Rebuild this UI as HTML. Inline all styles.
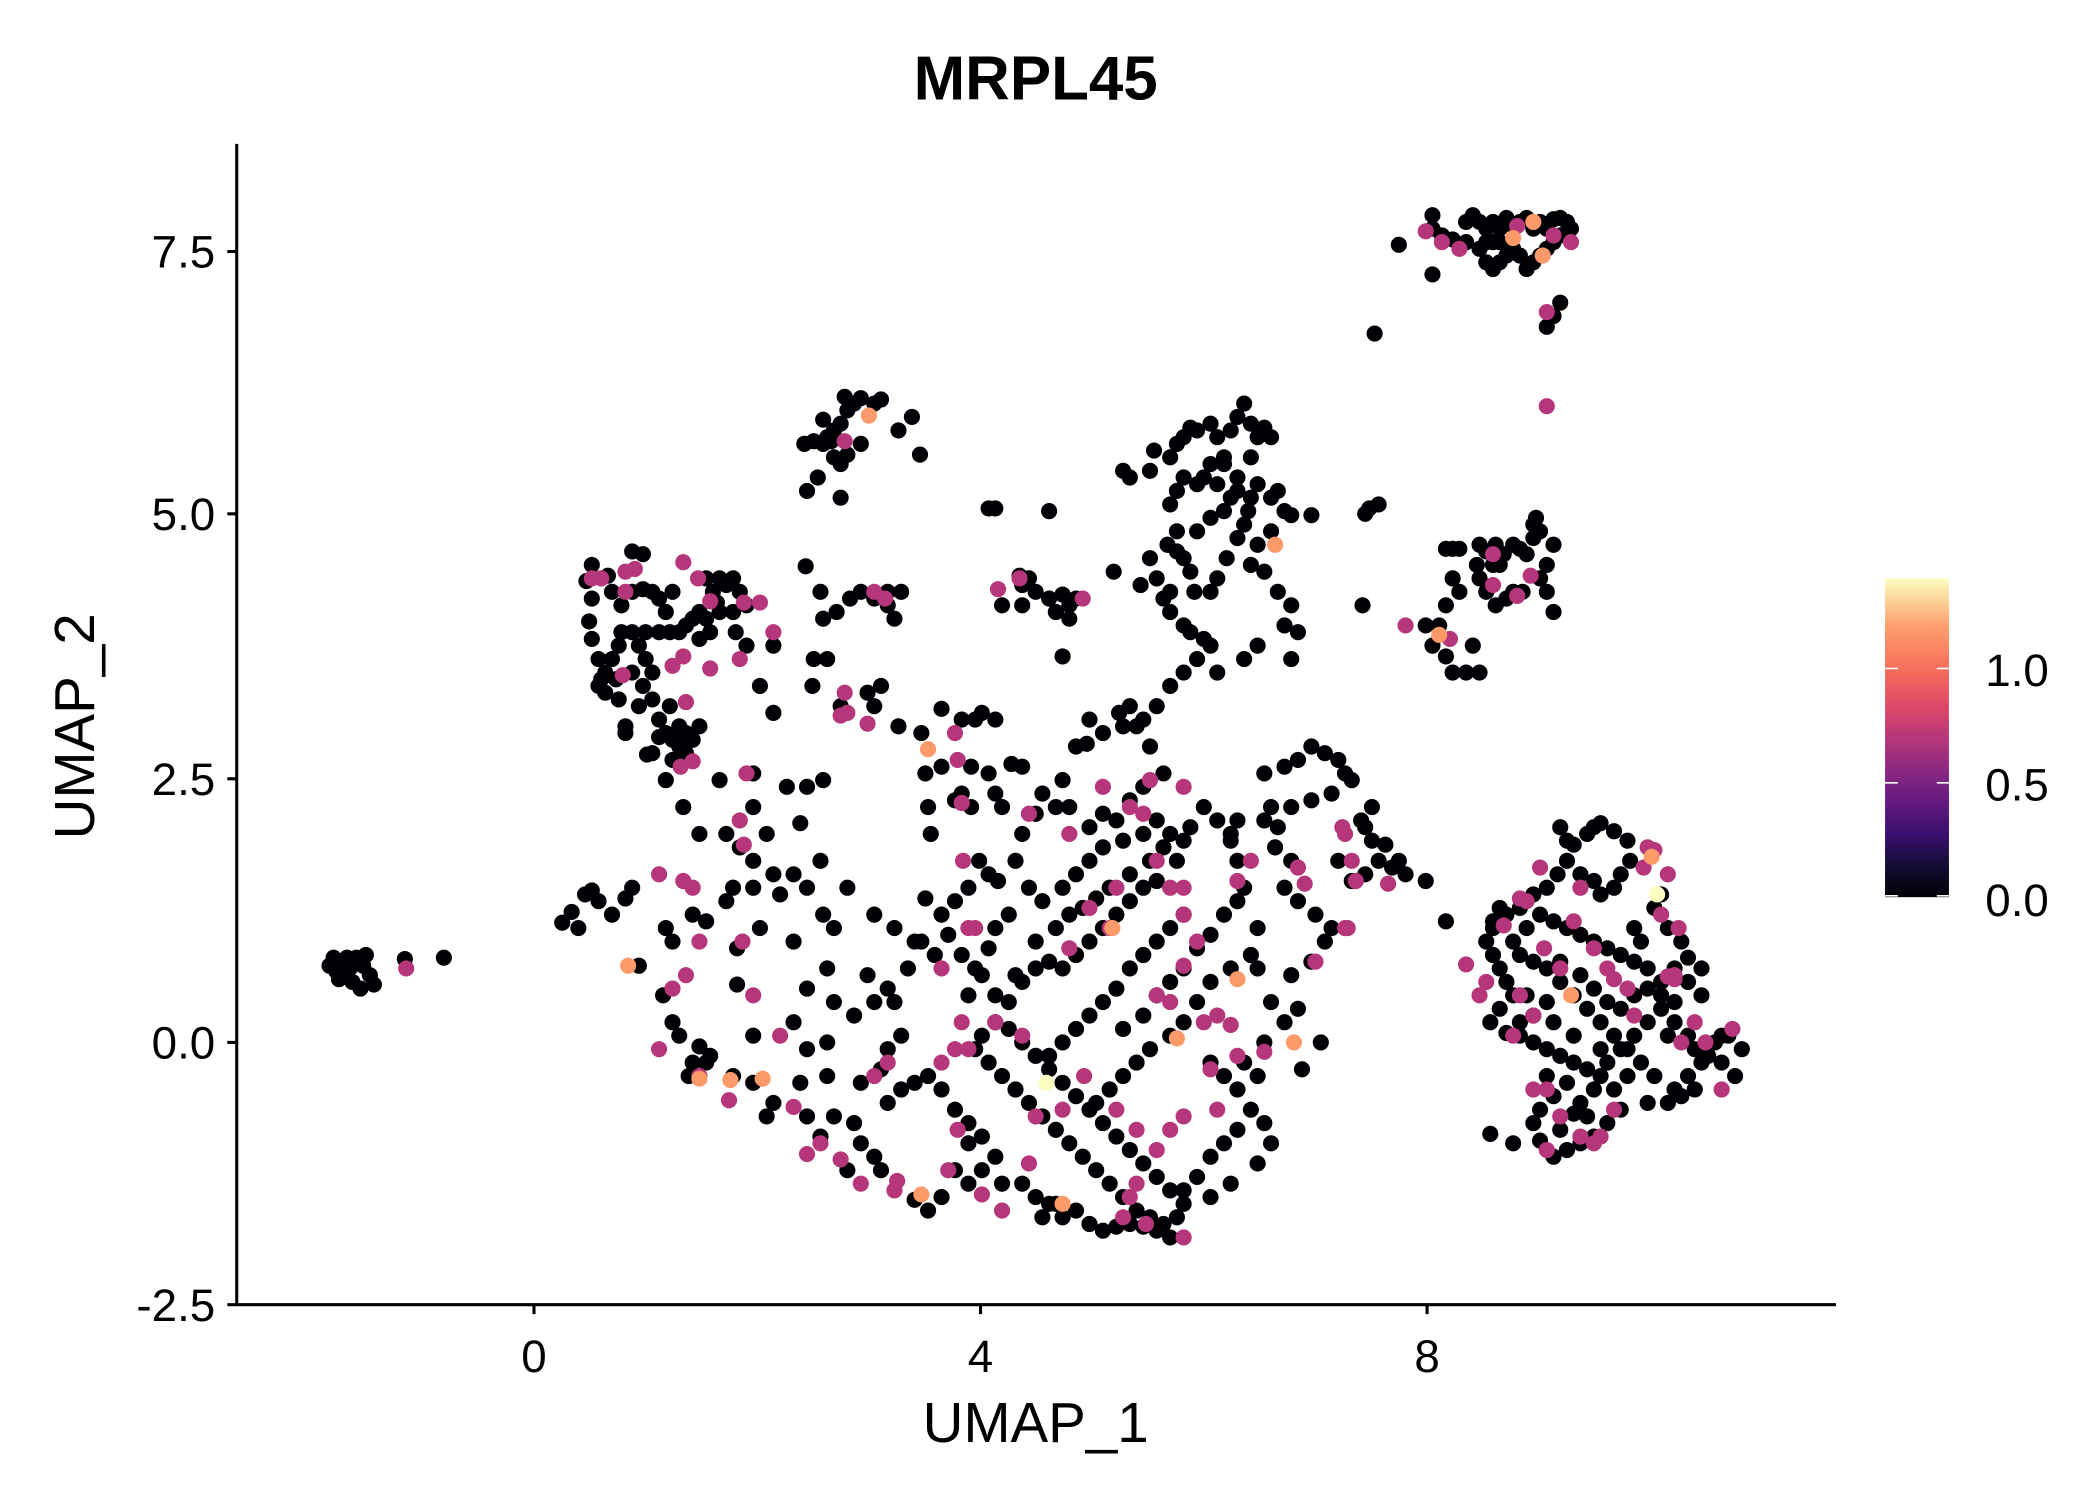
<!DOCTYPE html>
<html><head><meta charset="utf-8"><style>html,body{margin:0;padding:0;background:#fff}svg{display:block}</style></head>
<body>
<svg width="2100" height="1500" viewBox="0 0 1561.3 1115.2" xmlns="http://www.w3.org/2000/svg" font-family="Liberation Sans, Arial, sans-serif">
<defs>
<linearGradient id="mg" x1="0" y1="1" x2="0" y2="0">
<stop offset="0" stop-color="#000004"/>
<stop offset="0.1" stop-color="#140e36"/>
<stop offset="0.2" stop-color="#3b0f70"/>
<stop offset="0.3" stop-color="#641a80"/>
<stop offset="0.4" stop-color="#8c2981"/>
<stop offset="0.5" stop-color="#b73779"/>
<stop offset="0.6" stop-color="#de4968"/>
<stop offset="0.72" stop-color="#f7705c"/>
<stop offset="0.85" stop-color="#fe9f6d"/>
<stop offset="1" stop-color="#fcfdbf"/>
</linearGradient>
</defs>
<rect width="1561.3" height="1115.2" fill="#fff"/>
<text x="770" y="74" font-size="46" font-weight="bold" text-anchor="middle">MRPL45</text>
<g stroke="#000" stroke-width="2.3" fill="none">
<line x1="176" y1="107" x2="176" y2="971"/>
<line x1="175" y1="970" x2="1365" y2="970"/>
<line x1="169" y1="187" x2="176" y2="187"/><line x1="169" y1="382" x2="176" y2="382"/><line x1="169" y1="579" x2="176" y2="579"/><line x1="169" y1="775" x2="176" y2="775"/><line x1="169" y1="970" x2="176" y2="970"/>
<line x1="397" y1="970" x2="397" y2="977"/><line x1="729" y1="970" x2="729" y2="977"/><line x1="1061" y1="970" x2="1061" y2="977"/>
</g>
<g font-size="34" text-anchor="end">
<text x="160" y="199">7.5</text><text x="160" y="394">5.0</text><text x="160" y="591">2.5</text><text x="160" y="787">0.0</text><text x="160" y="982">-2.5</text>
</g>
<g font-size="34" text-anchor="middle">
<text x="397" y="1020">0</text><text x="729" y="1020">4</text><text x="1061" y="1020">8</text>
</g>
<text x="770" y="1072" font-size="42" text-anchor="middle">UMAP_1</text>
<text transform="translate(70,540) rotate(-90)" font-size="42" text-anchor="middle">UMAP_2</text>
<rect x="1401.5" y="430" width="47.5" height="237" fill="url(#mg)"/>
<g stroke="#fff" stroke-width="1.2">
<line x1="1401.5" y1="497" x2="1411" y2="497"/><line x1="1440" y1="497" x2="1449" y2="497"/>
<line x1="1401.5" y1="582" x2="1411" y2="582"/><line x1="1440" y1="582" x2="1449" y2="582"/>
<line x1="1401.5" y1="666" x2="1411" y2="666"/><line x1="1440" y1="666" x2="1449" y2="666"/>
</g>
<g font-size="34"><text x="1476" y="510">1.0</text><text x="1476" y="595">0.5</text><text x="1476" y="681">0.0</text></g>
<g fill="none" stroke-linecap="round" stroke-width="12">
<path stroke="#000004" d="M245 718h0M250 722h0M255 715h0M260 720h0M265 712h0M270 718h0M275 725h0M278 732h0M252 728h0M262 730h0M268 735h0M258 712h0M272 710h0M248 712h0M301 713h0M330 712h0
M436 432h0M440 445h0M438 462h0M440 475h0M445 490h0M447 505h0M450 515h0M460 520h0M465 540h0M470 410h0M478 412h0M470 440h0M478 438h0M485 440h0M490 445h0M495 455h0M500 440h0M505 470h0M510 465h0M515 460h0M520 455h0M525 430h0M530 440h0M535 430h0M540 435h0M545 430h0M550 440h0M555 450h0M545 455h0M535 455h0M525 460h0M520 475h0M498 470h0M490 470h0M480 470h0M470 470h0M460 480h0M455 490h0M450 500h0M445 510h0M458 505h0M470 500h0M478 510h0M485 520h0M490 535h0M495 545h0M500 550h0M505 555h0M510 560h0M515 550h0M505 540h0M490 548h0M480 490h0M485 500h0M475 525h0M465 545h0M455 440h0M462 450h0M440 420h0M452 428h0M547 470h0M555 480h0M575 480h0M520 540h0M485 560h0M500 565h0M510 545h0M462 470h0M475 480h0M528 470h0M533 448h0M498 525h0
M481 561h0M495 580h0M508 600h0M535 580h0M520 620h0M540 620h0M550 630h0M560 575h0M560 640h0M570 620h0M575 650h0M560 660h0M565 690h0M580 665h0M590 650h0M595 612h0M600 660h0M612 580h0M600 585h0M585 585h0M575 530h0M565 510h0M560 600h0M545 660h0M540 670h0M548 705h0M525 685h0M515 680h0M500 700h0M495 690h0M455 680h0M465 668h0M470 660h0M440 662h0M445 670h0M435 665h0M425 678h0M430 690h0M418 686h0M475 718h0M493 740h0M500 760h0M505 770h0M520 778h0M528 785h0M515 790h0M512 800h0M525 790h0M548 732h0M560 770h0M545 800h0M560 805h0M575 820h0M570 830h0M595 805h0M600 780h0M590 760h0M600 735h0M615 720h0M590 700h0M612 680h0M630 660h0M610 640h0M620 690h0M620 745h0M615 775h0M615 800h0M620 830h0M635 835h0M640 850h0M650 860h0M655 870h0M630 870h0M610 845h0M600 830h0M640 805h0M655 795h0M660 780h0M665 745h0M670 770h0M660 735h0M675 720h0M680 700h0M688 668h0M665 690h0M650 680h0M645 725h0M635 755h0M650 745h0
M598 330h0M605 328h0M612 330h0M615 325h0M620 320h0M625 315h0M630 305h0M628 295h0M635 300h0M640 296h0M650 300h0M655 297h0M612 312h0M620 340h0M625 345h0M608 355h0M600 365h0M625 370h0M668 320h0M678 310h0M684 338h0M618 328h0M640 330h0M630 338h0
M599 421h0M610 440h0M612 460h0M622 455h0M605 490h0M615 490h0M604 510h0M625 525h0M650 445h0M660 450h0M665 460h0M670 440h0M660 440h0M632 445h0M645 515h0M650 525h0M655 510h0M668 540h0M685 545h0M700 527h0M715 535h0M725 535h0M730 530h0M740 535h0M688 575h0M700 570h0M690 600h0M692 620h0M710 595h0M715 590h0M722 600h0M722 570h0M740 590h0M760 570h0M745 600h0M752 568h0M735 575h0M640 440h0
M735 378h0M740 378h0M780 380h0M765 430h0M758 428h0M760 435h0M770 440h0M780 445h0M790 442h0M795 450h0M800 445h0M785 455h0M795 460h0M790 488h0M760 450h0M745 450h0M828 425h0M848 435h0M855 415h0
M835 350h0M840 355h0M855 350h0M858 335h0M870 340h0M875 330h0M880 325h0M885 318h0M890 320h0M900 315h0M905 325h0M915 320h0M920 310h0M925 300h0M930 315h0M935 325h0M940 318h0M945 325h0M930 340h0M920 355h0M910 345h0M900 345h0M895 355h0M890 360h0M880 355h0M875 365h0M870 375h0M868 405h0M875 410h0M880 415h0M885 425h0M888 440h0M870 440h0M860 430h0M865 445h0M870 455h0M880 465h0M885 470h0M895 475h0M900 480h0M890 490h0M880 500h0M870 510h0M860 525h0M850 535h0M835 540h0M820 545h0M808 553h0M900 440h0M905 430h0M912 415h0M920 400h0M925 390h0M928 380h0M930 370h0M935 360h0M945 370h0M950 365h0M955 380h0M945 395h0M935 405h0M930 420h0M940 425h0M950 440h0M960 450h0M955 465h0M965 470h0M960 490h0M935 480h0M925 490h0M905 500h0M875 395h0M890 395h0M900 385h0M910 380h0M915 370h0M920 365h0M905 360h0M910 340h0M960 383h0M975 383h0M1013 450h0M1015 382h0M1018 378h0M1025 375h0
M1065 160h0M1065 170h0M1072 175h0M1080 178h0M1090 165h0M1095 160h0M1100 165h0M1105 170h0M1110 165h0M1115 170h0M1120 162h0M1125 168h0M1130 165h0M1135 162h0M1140 170h0M1145 165h0M1150 170h0M1155 163h0M1160 162h0M1165 165h0M1168 170h0M1160 175h0M1155 180h0M1150 185h0M1145 190h0M1140 195h0M1135 200h0M1130 190h0M1125 185h0M1120 190h0M1115 195h0M1110 200h0M1105 195h0M1100 185h0M1105 180h0M1110 180h0M1115 180h0M1090 180h0M1040 182h0M1065 204h0M1160 225h0M1155 235h0M1150 243h0M1022 248h0
M1075 408h0M1080 408h0M1085 408h0M1100 405h0M1105 410h0M1112 405h0M1118 412h0M1125 405h0M1130 408h0M1135 412h0M1140 400h0M1140 390h0M1142 385h0M1145 395h0M1155 405h0M1150 420h0M1145 430h0M1150 440h0M1155 455h0M1132 440h0M1125 440h0M1120 445h0M1112 450h0M1105 440h0M1100 430h0M1098 420h0M1085 440h0M1080 430h0M1075 450h0M1070 465h0M1060 465h0M1065 480h0M1075 488h0M1080 500h0M1090 500h0M1100 500h0M1095 480h0M1110 420h0M1115 420h0
M800 555h0M810 535h0M832 530h0M840 525h0M845 540h0M855 555h0M865 575h0M850 585h0M840 595h0M830 610h0M820 605h0M810 615h0M795 600h0M790 580h0M785 600h0M775 590h0M770 605h0M760 620h0M755 640h0M765 660h0M775 670h0M790 660h0M800 650h0M810 640h0M820 630h0M835 625h0M850 620h0M860 610h0M870 620h0M880 625h0M875 640h0M860 655h0M850 660h0M840 670h0M830 680h0M820 690h0M810 700h0M800 710h0M790 720h0M780 715h0M770 720h0M760 730h0M750 745h0M740 760h0M730 770h0M725 780h0M735 790h0M745 800h0M755 810h0M765 820h0M775 830h0M785 840h0M795 850h0M805 860h0M815 870h0M825 880h0M835 890h0M845 900h0M855 905h0M865 910h0M875 905h0M880 895h0M870 885h0M860 875h0M850 865h0M840 855h0M830 845h0M820 835h0M810 825h0M800 815h0M790 805h0M780 795h0M770 785h0M760 775h0M750 765h0M740 740h0M755 725h0M770 700h0M785 690h0M795 680h0M805 675h0M815 668h0M825 660h0M840 650h0M855 640h0M865 630h0M885 615h0M895 600h0M905 610h0M915 620h0M920 640h0M925 660h0M935 690h0M930 710h0M915 720h0M900 730h0M890 745h0M880 760h0M870 770h0M855 780h0M845 790h0M835 800h0M825 810h0M815 820h0M835 765h0M850 755h0M860 740h0M870 730h0M880 720h0M890 705h0M900 695h0M910 680h0M920 670h0M880 680h0M870 690h0M860 700h0M850 710h0M840 720h0M830 735h0M820 745h0M810 755h0M800 765h0M790 775h0M780 785h0M900 790h0M910 800h0M920 810h0M930 825h0M920 840h0M910 850h0M900 860h0M890 875h0M880 885h0M900 890h0M915 880h0M935 865h0M945 850h0M940 835h0M935 800h0M925 790h0M940 775h0M955 760h0M965 750h0M960 725h0M975 715h0M985 700h0M990 690h0M978 680h0M965 670h0M955 660h0M960 640h0M948 630h0M950 615h0M940 610h0M960 600h0M975 595h0M990 590h0M1000 575h0M1005 580h0M995 565h0M985 560h0M975 555h0M965 565h0M955 570h0M940 575h0M945 600h0M920 610h0M915 625h0M935 720h0M945 745h0M968 795h0M982 775h0M995 640h0M1005 655h0M1015 650h0M1025 640h0M1035 645h0M1045 650h0M1060 655h0M1075 685h0
M660 820h0M670 810h0M680 805h0M690 800h0M700 810h0M710 825h0M720 835h0M730 845h0M740 860h0M730 870h0M720 880h0M700 890h0M690 900h0M680 892h0M710 870h0M720 850h0M745 880h0M760 880h0M770 890h0M780 895h0M790 905h0M800 900h0M810 910h0M820 915h0M830 912h0M840 910h0M850 912h0M860 915h0M870 920h0M775 905h0M785 895h0M685 700h0M695 710h0M705 695h0M715 710h0M725 720h0M735 705h0M720 740h0M730 725h0M740 690h0M750 680h0M742 655h0M735 650h0M728 640h0M720 660h0M710 670h0M700 680h0M1012 610h0M1020 625h0M1030 628h0M1040 640h0M1015 615h0M1020 600h0
M1160 615h0M1165 625h0M1170 628h0M1180 620h0M1185 615h0M1190 612h0M1200 618h0M1210 625h0M1212 640h0M1205 650h0M1200 660h0M1190 665h0M1185 655h0M1175 650h0M1165 640h0M1158 650h0M1150 660h0M1140 665h0M1130 675h0M1120 680h0M1110 690h0M1105 700h0M1110 710h0M1115 720h0M1120 730h0M1125 740h0M1115 750h0M1108 760h0M1120 768h0M1130 770h0M1140 775h0M1150 780h0M1160 785h0M1170 790h0M1180 795h0M1190 800h0M1200 810h0M1205 825h0M1195 835h0M1185 845h0M1175 850h0M1165 855h0M1155 860h0M1145 848h0M1140 835h0M1145 825h0M1155 815h0M1165 805h0M1175 820h0M1185 810h0M1195 790h0M1205 780h0M1215 770h0M1225 760h0M1235 750h0M1245 760h0M1255 770h0M1260 780h0M1270 785h0M1280 790h0M1290 800h0M1295 780h0M1285 770h0M1275 775h0M1265 790h0M1255 800h0M1245 810h0M1240 820h0M1250 815h0M1260 810h0M1230 800h0M1220 790h0M1210 780h0M1200 770h0M1190 760h0M1180 750h0M1170 740h0M1160 730h0M1150 720h0M1140 715h0M1130 710h0M1125 700h0M1135 690h0M1145 680h0M1155 685h0M1165 690h0M1175 695h0M1185 700h0M1195 705h0M1205 710h0M1215 715h0M1225 720h0M1235 730h0M1245 720h0M1255 730h0M1265 720h0M1245 745h0M1235 740h0M1225 735h0M1215 740h0M1205 750h0M1195 745h0M1185 735h0M1175 725h0M1160 715h0M1150 745h0M1140 755h0M1130 760h0M1135 740h0M1155 760h0M1170 770h0M1190 780h0M1210 800h0M1225 820h0M1240 770h0M1180 830h0M1150 800h0M1108 843h0M1125 850h0M1160 840h0M1170 828h0M1215 690h0M1220 700h0M1230 675h0M1235 665h0M1240 690h0M1250 700h0M1255 712h0M1265 740h0M1280 770h0M1115 675h0M1110 685h0"/>
<path stroke="#b5367a" d="M302 720h0M440 430h0M447 430h0M465 425h0M472 423h0M465 440h0M508 418h0M519 430h0M528 447h0M553 448h0M565 448h0M463 502h0M508 488h0M510 522h0M500 495h0M528 497h0M550 490h0M575 470h0M506 570h0M515 566h0M490 650h0M515 660h0M508 655h0M520 700h0M490 780h0M510 725h0M500 735h0M550 610h0M553 628h0M555 575h0M552 700h0M560 740h0M580 770h0M590 823h0M520 800h0M542 818h0M600 858h0M610 850h0M625 862h0M640 880h0M665 885h0M667 878h0M650 800h0M660 790h0M700 790h0M710 780h0M715 760h0M720 780h0M700 720h0M720 690h0M725 690h0M628 328h0M650 440h0M658 445h0M628 515h0M630 530h0M625 532h0M645 538h0M710 545h0M712 565h0M715 597h0M716 640h0M765 605h0M742 438h0M758 430h0M805 445h0M1060 172h0M1072 180h0M1085 185h0M1128 168h0M1155 175h0M1168 180h0M1150 232h0M1150 302h0M1045 465h0M1078 475h0M1110 435h0M1128 443h0M1138 428h0M1110 412h0M820 585h0M840 600h0M850 605h0M855 580h0M880 585h0M860 640h0M870 660h0M880 660h0M880 680h0M890 700h0M920 655h0M930 640h0M965 645h0M1000 620h0M1005 640h0M1000 690h0M978 715h0M880 718h0M860 740h0M870 745h0M895 760h0M905 755h0M915 762h0M940 782h0M920 785h0M900 795h0M905 825h0M880 830h0M870 840h0M860 855h0M845 880h0M840 890h0M835 905h0M852 910h0M880 920h0M845 840h0M830 825h0M806 800h0M790 825h0M770 830h0M765 865h0M745 900h0M730 888h0M705 870h0M712 840h0M740 760h0M760 770h0M825 690h0M830 660h0M795 620h0M810 675h0M795 705h0M998 615h0M1008 655h0M1002 690h0M1032 657h0M1090 717h0M1118 688h0M1130 668h0M1135 670h0M1145 645h0M1148 705h0M1160 720h0M1170 685h0M1175 660h0M1185 705h0M1195 720h0M1200 728h0M1210 735h0M1215 755h0M1225 630h0M1230 632h0M1240 650h0M1248 690h0M1245 725h0M1250 775h0M1260 760h0M1268 775h0M1280 810h0M1288 765h0M1140 810h0M1150 810h0M1160 830h0M1175 845h0M1190 845h0M1200 825h0M1185 850h0M1140 755h0M1130 740h0M1125 770h0M1100 740h0M1105 730h0M1150 855h0M1222 645h0M1235 680h0M1240 726h0M1245 728h0M970 657h0"/>
<path stroke="#fd9a6a" d="M467 718h0M520 802h0M543 803h0M567 802h0M685 888h0M646 309h0M690 557h0M948 405h0M1125 177h0M1140 165h0M1147 190h0M1070 472h0M827 690h0M875 772h0M920 728h0M962 775h0M790 895h0M1228 637h0M1168 740h0"/>
<path stroke="#fcfdbf" d="M778 805h0M1232 665h0"/>
</g>
</svg>
</body></html>
